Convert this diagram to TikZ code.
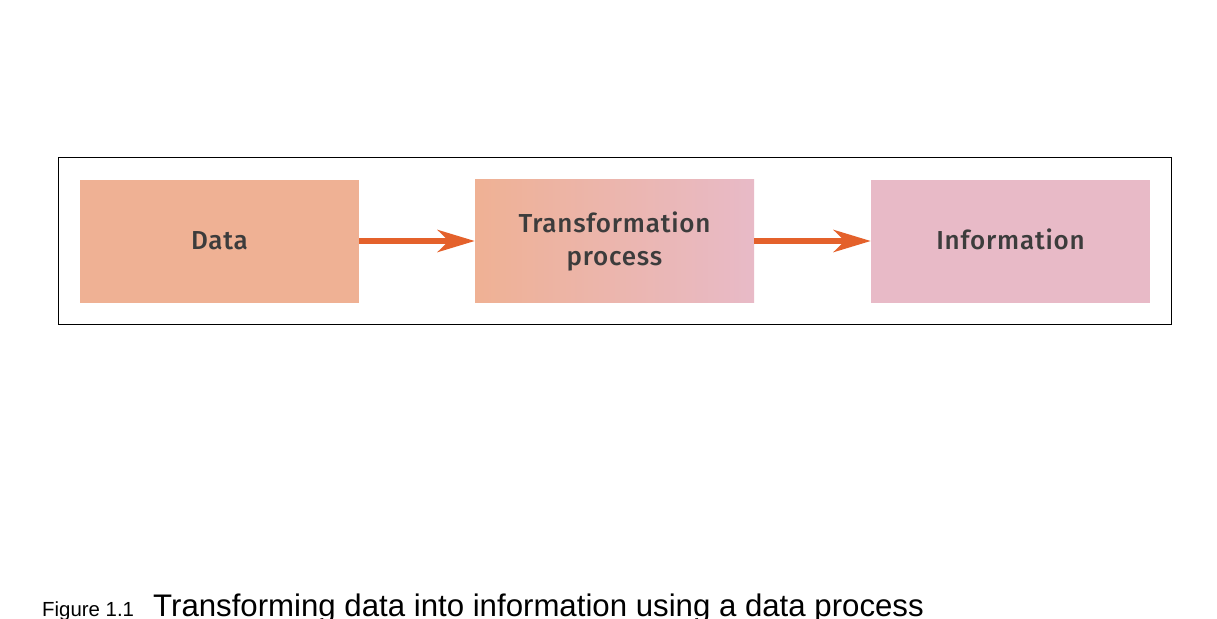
\documentclass[tikz,border=0pt]{standalone}
\usepackage{fontspec}
\setmainfont{Liberation Sans}
\newfontfamily\boxfont{Fira Sans Medium}[LetterSpace=3]
\usetikzlibrary{arrows.meta}
\definecolor{salmon}{HTML}{EFB194}
\definecolor{pinkish}{HTML}{E8BAC7}
\definecolor{arroworange}{HTML}{E4612B}
\definecolor{boxtext}{HTML}{3C3C3C}
\tikzset{
  procbox/.style={rectangle, inner sep=0pt, minimum width=279pt, minimum height=123pt,
    text=boxtext, align=center, font=\boxfont\fontsize{26}{33}\selectfont},
  flowarrow/.style={draw=arroworange, line width=6pt,
    -{Stealth[length=37pt, width=22pt, inset=11pt]}},
  frameline/.style={draw=black, line width=1pt}
}
\begin{document}
\begin{tikzpicture}[x=1pt, y=-1pt]
\useasboundingbox (0,0) rectangle (1217,618);
\fill[white] (0,0) rectangle (1217,618);
\draw[frameline] (58,157) rectangle (1171,324);
\node[procbox, fill=salmon] (data) at (219.5,241) {Data};
\node[procbox, left color=salmon, right color=pinkish] (trans) at (614.5,241) {Transformation\\process};
\node[procbox, fill=pinkish] (info) at (1010.5,241) {\raisebox{3pt}{Information}};
\draw[flowarrow] (data.east) -- (trans.west);
\draw[flowarrow] (trans.east) -- (info.west);
\node[anchor=base west, inner sep=0pt, font=\fontsize{20.4}{24}\selectfont] (figlabel) at (42,616) {Figure 1.1};
\node[anchor=base west, inner sep=0pt, font=\fontsize{31.2}{36}\selectfont] (figcaption) at (153,616) {Transforming data into information using a data process};
\end{tikzpicture}
\end{document}
